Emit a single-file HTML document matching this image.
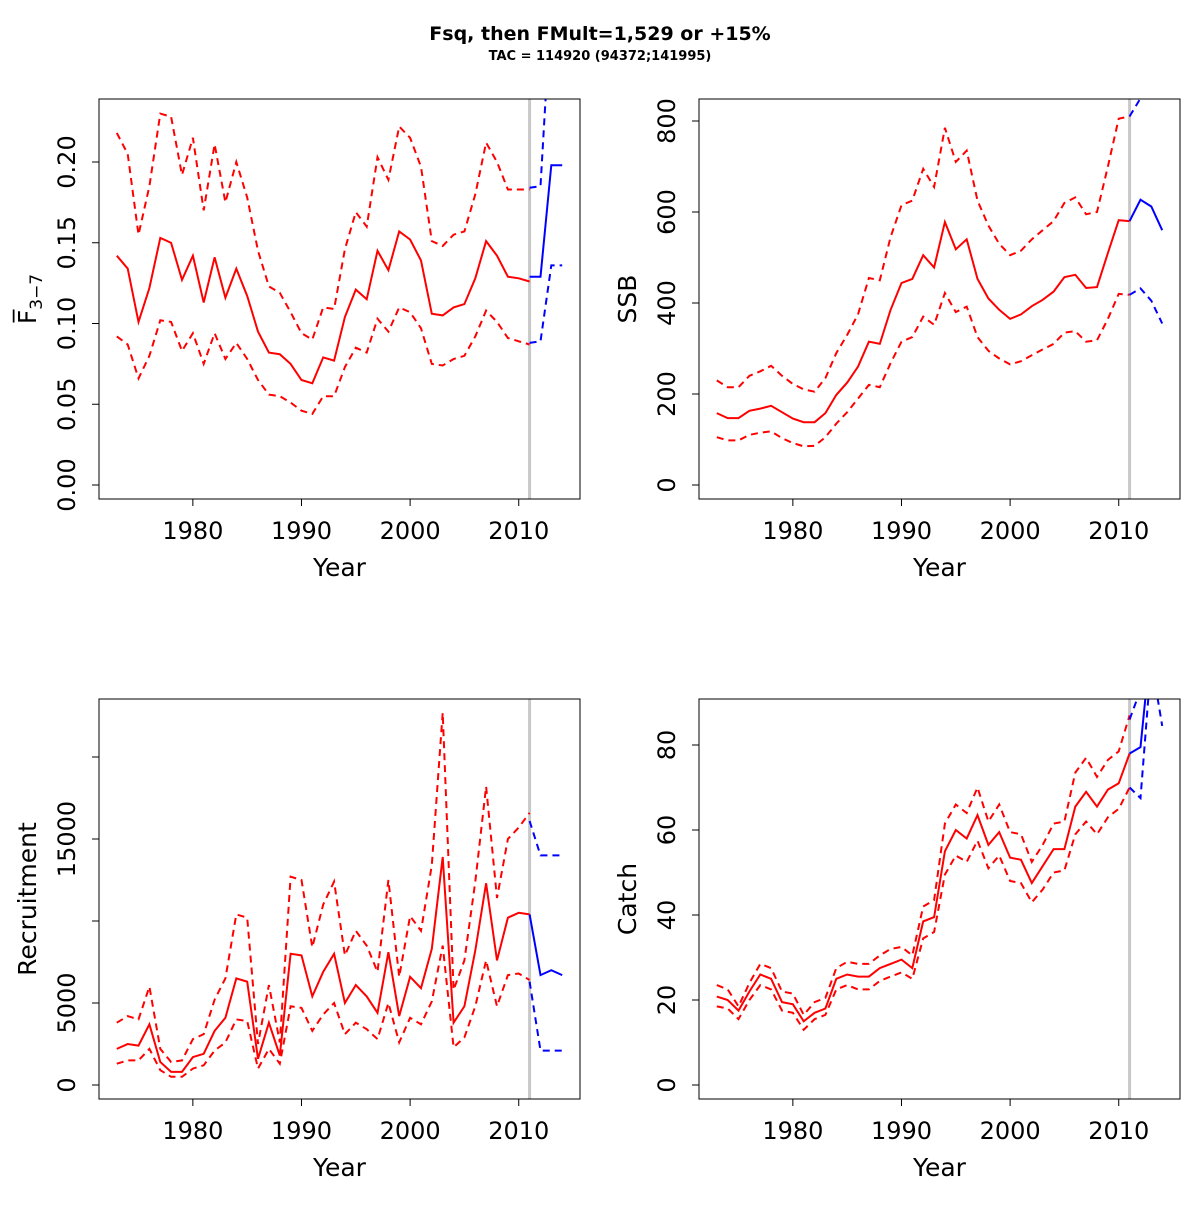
<!DOCTYPE html>
<html><head><meta charset="utf-8"><style>
body{margin:0;background:#fff}
svg text{font-family:"DejaVu Sans","Liberation Sans",sans-serif}
</style></head><body>
<svg id="c" width="1200" height="1200" xmlns="http://www.w3.org/2000/svg">
<text x="600" y="40" text-anchor="middle" font-weight="bold" font-size="19">Fsq, then FMult=1,529 or +15%</text>
<text x="600" y="60" text-anchor="middle" font-weight="bold" font-size="13">TAC = 114920 (94372;141995)</text>
</svg>
<script>
const years = [];for(let y=1973;y<=2011;y++)years.push(y);
const projYears=[2011,2012,2013,2014];
const fMid=[0.142,0.134,0.101,0.122,0.153,0.150,0.127,0.142,0.113,0.141,0.116,0.134,0.117,0.095,0.082,0.081,0.075,0.065,0.063,0.079,0.077,0.104,0.121,0.115,0.145,0.133,0.157,0.152,0.139,0.106,0.105,0.110,0.112,0.128,0.151,0.142,0.129,0.128,0.126];
const fHi=[0.218,0.205,0.155,0.185,0.230,0.228,0.192,0.215,0.170,0.211,0.175,0.200,0.178,0.145,0.123,0.119,0.107,0.094,0.090,0.110,0.109,0.146,0.169,0.160,0.203,0.189,0.222,0.215,0.197,0.151,0.148,0.155,0.157,0.180,0.212,0.200,0.183,0.183,0.183];
const fLo=[0.092,0.087,0.066,0.080,0.102,0.101,0.083,0.094,0.075,0.094,0.078,0.088,0.078,0.065,0.056,0.055,0.051,0.046,0.044,0.055,0.055,0.073,0.085,0.082,0.103,0.095,0.110,0.107,0.097,0.075,0.074,0.078,0.080,0.092,0.108,0.101,0.091,0.089,0.087];
const fProj=[0.129,0.129,0.198,0.198],fProjHi=[0.184,0.185,0.30,0.30],fProjLo=[0.088,0.089,0.136,0.136];
const ssbMid=[158,147,147,163,168,174,160,146,138,138,158,198,225,260,315,310,385,444,453,505,478,578,518,540,453,410,385,365,375,393,407,425,457,462,433,435,510,582,580];
const ssbHi=[230,215,215,240,250,262,240,222,210,205,235,290,330,375,455,450,545,615,625,695,655,785,710,735,625,570,530,505,515,540,560,580,620,632,595,600,700,805,810];
const ssbLo=[105,98,98,110,115,118,103,92,85,86,105,135,160,190,220,215,268,315,325,370,352,422,380,392,325,295,278,265,272,285,298,310,335,338,315,318,365,420,418];
const ssbProj=[580,627,612,560],ssbProjHi=[810,850,950,950],ssbProjLo=[418,432,405,355];
const recMid=[2200,2500,2400,3700,1400,800,800,1700,1900,3300,4100,6500,6300,1600,3800,1800,8000,7900,5400,6900,8000,5000,6100,5400,4400,8100,4200,6600,5900,8300,13900,3800,4800,8200,12300,7600,10200,10500,10400];
const recHi=[3800,4200,4000,6000,2200,1400,1500,2800,3100,5200,6500,10400,10200,2500,6100,2600,12700,12500,8400,11000,12400,7900,9400,8500,6900,12500,6600,10300,9400,13400,22700,5800,7600,12400,18200,11400,15000,15700,16600];
const recLo=[1300,1500,1500,2200,900,500,500,1000,1200,2100,2600,4000,3900,1000,2200,1300,4800,4700,3300,4300,5000,3100,3800,3400,2800,5000,2600,4100,3700,5100,8500,2300,2900,4800,7600,4800,6700,6800,6400];
const recProj=[10400,6700,7000,6700],recProjHi=[16100,14000,14000,14000],recProjLo=[6300,2100,2100,2100];
const catMid=[20.8,20,17.5,22,26,25,19.5,19,15,17,18,25,26,25.5,25.5,27.5,28.5,29.5,27.5,38.5,39.5,55,60,58,63.5,56.5,59.5,53.5,53,47.5,51.5,55.5,55.5,65.5,69,65.5,69.5,71,78];
const catHi=[23.5,22.5,18.5,24,28.5,27.5,22,21.5,16.5,19.5,20.5,27.5,29,28.5,28.5,30.5,32,32.5,30.5,42,43.5,61.5,66,64,70,62,66,59.5,59,52.5,56.5,61.5,62,73.5,77,72.5,76.5,78.5,87];
const catLo=[18.5,18,15.5,20,23.5,22.5,17.5,17,13,15.5,16.5,22.5,23.5,22.5,22.5,24.5,25.5,26.5,25,34.5,36,49.5,54,52.5,57.5,51,54,48,47.5,43,46,50,50.5,59,62,59,63,65,70];
const catProj=[78,79.5,105,105],catProjHi=[86,93,120,110],catProjLo=[70,67.5,100,84.5];
const xTicks=[1980,1990,2000,2010];

const svg=document.getElementById('c');const NS='http://www.w3.org/2000/svg';
function mk(t,a,p){const e=document.createElementNS(NS,t);for(const k in a)e.setAttribute(k,a[k]);(p||svg).appendChild(e);return e;}
const panels=[
 {name:'f-panel',x0:99,y0:99,mid:fMid,hi:fHi,lo:fLo,pm:fProj,ph:fProjHi,pl:fProjLo,ymin:0,ymax:0.2,ypix0:485,ypix1:162,ticks:[0,0.05,0.1,0.15,0.2],labels:['0.00','0.05','0.10','0.15','0.20']},
 {name:'ssb-panel',x0:699,y0:99,mid:ssbMid,hi:ssbHi,lo:ssbLo,pm:ssbProj,ph:ssbProjHi,pl:ssbProjLo,ymin:0,ymax:800,ypix0:485,ypix1:121,ticks:[0,200,400,600,800],labels:['0','200','400','600','800'],ylab:'SSB'},
 {name:'recruitment-panel',x0:99,y0:699,mid:recMid,hi:recHi,lo:recLo,pm:recProj,ph:recProjHi,pl:recProjLo,ymin:0,ymax:15000,ypix0:1085,ypix1:839,ticks:[0,5000,10000,15000,20000],labels:['0','5000','','15000',''],ylab:'Recruitment'},
 {name:'catch-panel',x0:699,y0:699,mid:catMid,hi:catHi,lo:catLo,pm:catProj,ph:catProjHi,pl:catProjLo,ymin:0,ymax:80,ypix0:1085,ypix1:745,ticks:[0,20,40,60,80],labels:['0','20','40','60','80'],ylab:'Catch'}
];
panels.forEach((p,i)=>{
 const g=mk('g',{});
 
 
 const W=481,H=400;
 const sx=y=>p.x0+(y-1971.36)/(44.28)*W;
 const sy=v=>p.ypix0+(v-p.ymin)/(p.ymax-p.ymin)*(p.ypix1-p.ypix0);
 const cp=mk('clipPath',{id:'cp'+i},g);mk('rect',{x:p.x0,y:p.y0,width:W,height:H},cp);
 const gx=sx(2011);
 const vl=mk('line',{x1:gx,x2:gx,y1:p.y0,y2:p.y0+H,stroke:'#c8c8c8','stroke-width':3},g);
 
 
 const lines=[[years,p.mid,'red',null,'estimate-line'],[years,p.hi,'red','7,5','upper-ci-line'],[years,p.lo,'red','7,5','lower-ci-line'],[projYears,p.pm,'blue',null,'projection-line'],[projYears,p.ph,'blue','7,5','projection-upper-line'],[projYears,p.pl,'blue','7,5','projection-lower-line']];
 lines.forEach(l=>{
  const d=l[0].map((y,k)=>(k?'L':'M')+sx(y).toFixed(1)+','+sy(l[1][k]).toFixed(1)).join('');
  const a={d:d,fill:'none',stroke:l[2],'stroke-width':2,'clip-path':'url(#cp'+i+')'};
  if(l[3])a['stroke-dasharray']=l[3];
  const e=mk('path',a,g);
  
  
 });
 const box=mk('rect',{x:p.x0,y:p.y0,width:W,height:H,fill:'none',stroke:'#000','stroke-width':1},g);
 
 
 const by=p.y0+H;
 mk('line',{x1:sx(1980),x2:sx(2010),y1:by,y2:by,stroke:'#000'},g);
 xTicks.forEach(t=>{mk('line',{x1:sx(t),x2:sx(t),y1:by,y2:by+7,stroke:'#000'},g);
  const tx=mk('text',{x:sx(t),y:by+40,'text-anchor':'middle','font-size':24},g);tx.textContent=t;
  
  });
 const xl=mk('text',{x:p.x0+W/2,y:by+77,'text-anchor':'middle','font-size':25},g);xl.textContent='Year';
 
 
 const lx=p.x0;
 mk('line',{x1:lx,x2:lx,y1:sy(p.ticks[0]),y2:sy(p.ticks[p.ticks.length-1]),stroke:'#000'},g);
 p.ticks.forEach((t,k)=>{const y=sy(t);mk('line',{x1:lx-7,x2:lx,y1:y,y2:y,stroke:'#000'},g);
  if(p.labels[k]){const tx=mk('text',{x:lx-24,y:y,'text-anchor':'middle','font-size':24,transform:`rotate(-90 ${lx-24} ${y})`},g);tx.textContent=p.labels[k];
  
  }});
 const yc=p.y0+H/2, yx=p.x0-63;
 const yl=mk('text',{x:yx,y:yc,'text-anchor':'middle','font-size':25,transform:`rotate(-90 ${yx} ${yc})`},g);
 
 
 if(p.ylab)yl.textContent=p.ylab;
 else{const a=mk('tspan',{},yl);a.textContent='F\u0305';const b=mk('tspan',{'font-size':17,dy:6},yl);b.textContent='3\u22127';}
});
</script>
</body></html>
